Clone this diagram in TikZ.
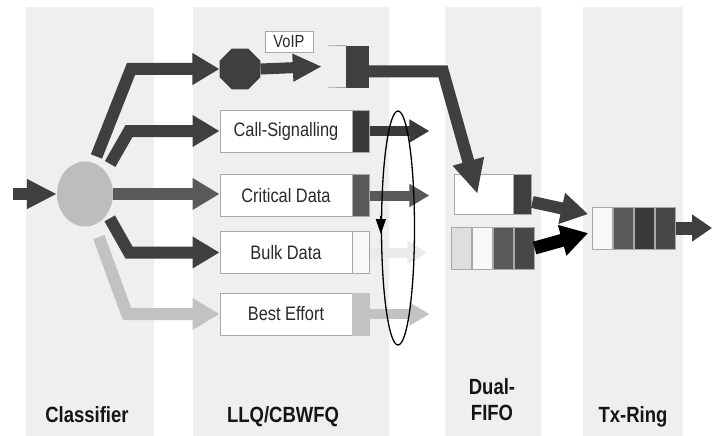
\documentclass[tikz,border=0pt]{standalone}
\usepackage{fontspec}
\setmainfont{Liberation Sans}[FakeStretch=0.84]
\usetikzlibrary{arrows.meta,shapes.geometric,calc}
\definecolor{panel}{HTML}{EFEFEF}
\definecolor{dark}{HTML}{3F3F3F}
\definecolor{crit}{HTML}{595959}
\definecolor{circc}{HTML}{BDBDBD}
\definecolor{beste}{HTML}{C2C2C2}
\definecolor{faint}{HTML}{EAEAEA}
\definecolor{bordc}{HTML}{A8A8A8}
\definecolor{txt}{HTML}{2A2A2A}
\definecolor{lblc}{HTML}{151515}
\definecolor{nearwhite}{HTML}{F8F8F8}
\definecolor{lgray}{HTML}{DEDEDE}
\definecolor{dgray}{HTML}{474747}
\definecolor{ddgray}{HTML}{3A3A3A}
\begin{document}
\begin{tikzpicture}[x=1pt,y=-1pt,
  fat/.style={line width=12pt, line join=miter, -{Triangle[length=27pt,width=30pt]}},
  fatsm/.style={line width=10pt, -{Triangle[length=20pt,width=22pt]}},
  qbox/.style={draw=bordc, line width=0.9pt, fill=white, minimum width=132pt, minimum height=42pt, inner sep=0pt, font=\fontsize{19.5}{22}\selectfont, text=txt},
  qblk/.style={draw=bordc, line width=0.9pt, minimum width=17pt, minimum height=42pt, inner sep=0pt, anchor=west},
  cell/.style={draw=bordc, line width=0.9pt, minimum width=20pt, minimum height=42pt, inner sep=0pt, anchor=west},
  lbl/.style={font=\fontsize{22}{26}\selectfont\bfseries, text=lblc, inner sep=0pt}]
\useasboundingbox (0,0) rectangle (712,436);
\fill[white] (0,0) rectangle (712,436);
% panels
\fill[panel] (26,7) rectangle (154,436);
\fill[panel] (193,7) rectangle (389,436);
\fill[panel] (445,7) rectangle (541,436);
\fill[panel] (583,7) rectangle (683,436);

% classifier
\node[ellipse, fill=circc, minimum width=56pt, minimum height=65pt, inner sep=0pt] (cl) at (85,194) {};

% LLQ boxes
\node[regular polygon, regular polygon sides=8, fill=dark, minimum size=44pt, inner sep=0pt] (oct) at (240,69) {};
\node[qbox, minimum width=48pt, minimum height=21pt, font=\fontsize{17.5}{20}\selectfont] (voiplbl) at (289,41.5) {VoIP};
\node[minimum width=41pt, minimum height=41pt, inner sep=0pt] (vq) at (348.5,66.5) {};
\node[qblk, fill=dark, draw=dark, minimum width=22pt, minimum height=41pt, anchor=east] (vqb) at (vq.east) {};
\draw[bordc, line width=0.9pt] (vq.north west) -- (vqb.north west);
\draw[bordc, line width=0.9pt] (vq.south west) -- (vqb.south west);

\node[qbox] (call) at (286,131) {Call-Signalling};
\node[qblk, fill=ddgray] (callq) at (call.east) {};
\node[qbox] (crit) at (286,195.5) {Critical Data};
\node[qblk, fill=crit] (critq) at (crit.east) {};
\node[qbox] (bulk) at (286,252.5) {Bulk Data};
\node[qblk, fill=nearwhite] (bulkq) at (bulk.east) {};
\node[qbox] (best) at (286,314) {Best Effort};
\node[qblk, fill=beste, draw=beste] (bestq) at (best.east) {};

% Dual-FIFO
\node[qbox, minimum width=59pt, minimum height=40pt] (dtop) at (483.5,194) {};
\node[qblk, fill=dark, minimum width=18pt, minimum height=40pt] (dtopq) at (dtop.east) {};
\node[cell, fill=lgray] (d1) at (451,248) {};
\node[cell, fill=nearwhite] (d2) at (d1.east) {};
\node[cell, fill=crit] (d3) at (d2.east) {};
\node[cell, fill=dgray] (d4) at (d3.east) {};

% Tx-Ring
\node[cell, fill=nearwhite] (t1) at (592,228) {};
\node[cell, fill=crit] (t2) at (t1.east) {};
\node[cell, fill=ddgray] (t3) at (t2.east) {};
\node[cell, fill=dgray] (t4) at (t3.east) {};

% input
\coordinate (inp) at (13,194);
\draw[fat, dark, -{Triangle[length=30pt,width=28pt]}] (inp) -- (cl.west);

% classifier outputs
\coordinate (k1) at (131,69);
\coordinate (k2) at (129,131);
\coordinate (k4) at (129,252.5);
\coordinate (k5) at (127,314);
\draw[fat, dark, shorten <=7pt] (cl.74) -- (k1) -- (oct.west);
\draw[fat, dark, shorten <=9pt] (cl.47) -- (k2) -- (call.west);
\draw[fat, crit] (cl.east) -- (cl.east -| crit.west);
\draw[fat, dark, shorten <=5pt] (cl.-42) -- (k4) -- (bulk.west);
\draw[fat, beste, shorten <=13pt] (cl.-73) -- (k5) -- (best.west);

% octagon to VoIP queue
\draw[fat, dark, line width=11pt, -{Triangle[length=29pt,width=26pt]}] (oct.east) -- ([xshift=-6pt]vq.west);

% LLQ outputs
\coordinate (callout) at ([xshift=59pt]callq.east);
\coordinate (critout) at ([xshift=59pt]critq.east);
\coordinate (bulkout) at ([xshift=57pt]bulkq.east);
\coordinate (bestout) at ([xshift=59pt]bestq.east);
\draw[fatsm, ddgray] (callq.east) -- (callout);
\draw[fatsm, crit] (critq.east) -- (critout);
\draw[fatsm, faint] (bulkq.east) -- (bulkout);
\draw[fatsm, beste] (bestq.east) -- (bestout);

% round robin
\node[ellipse, draw=black, line width=1.3pt, minimum width=33pt, minimum height=234pt, inner sep=0pt] (rr) at (398,228) {};
\draw[black, line width=1.3pt, -{Triangle[length=15pt,width=10pt]}] ([yshift=12pt]rr.west) -- ([yshift=-6pt]rr.west);

% VoIP to Dual-FIFO
\coordinate (k6) at (443,71.5);
\draw[fat, dark, -{Triangle[length=34pt,width=30pt]}] ([yshift=-5pt]vqb.east) -- (k6) -- ([xshift=-6pt]dtop.center);

% Dual-FIFO to Tx-Ring
\draw[fat, dark, shorten >=4pt] ([yshift=-8pt]dtopq.east) -- ([yshift=13pt]t1.west);
\draw[fat, black, line width=13pt, shorten >=4pt] (d4.east) -- ([yshift=-4pt]t1.west);

% output
\coordinate (outend) at (712,228);
\draw[fat, dark, line width=13pt, -{Triangle[length=20pt,width=26pt]}] (t4.east) -- (outend);

% labels
\node[lbl, anchor=base] (lcls) at (87,422) {Classifier};
\node[lbl, anchor=base] (lllq) at (283,422) {LLQ/CBWFQ};
\node[lbl, align=center] (ldual) at (492,400) {Dual-\\FIFO};
\node[lbl, anchor=base] (ltx) at (633,422) {Tx-Ring};
\end{tikzpicture}
\end{document}
